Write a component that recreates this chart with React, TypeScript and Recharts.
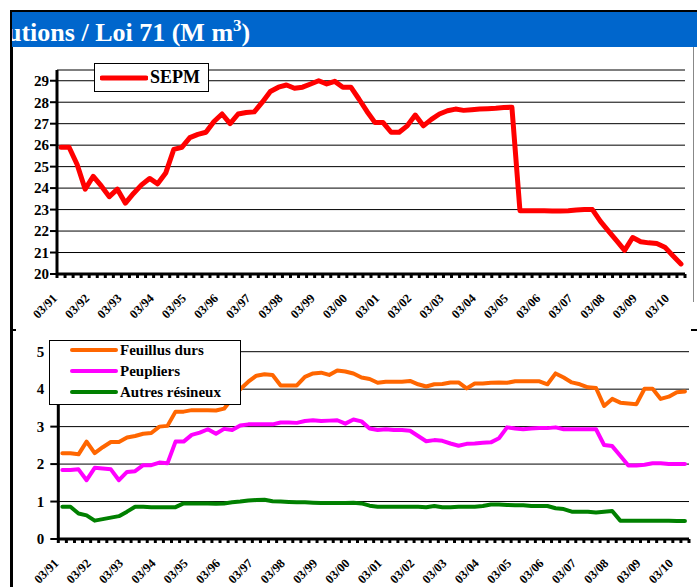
import { LineChart, Line, XAxis, YAxis, CartesianGrid } from "recharts"

const serif = '"Liberation Serif", "Times New Roman", serif'

// quarterly periods, 03/91 .. 06/10
const years = ["91", "92", "93", "94", "95", "96", "97", "98", "99", "00", "01", "02", "03", "04", "05", "06", "07", "08", "09", "10"]
const months = ["03", "06", "09", "12"]
const quarters = years.flatMap((y) => months.map((m) => `${m}/${y}`)).slice(0, 78)

const sepm = [
  25.9, 25.9, 25.1, 23.95, 24.55, 24.1, 23.6, 23.95, 23.3, 23.75,
  24.15, 24.45, 24.2, 24.7, 25.8, 25.9, 26.35, 26.5, 26.6, 27.1,
  27.45, 27.0, 27.45, 27.52, 27.55, 28.0, 28.5, 28.7, 28.8, 28.65,
  28.7, 28.85, 29.0, 28.85, 28.97, 28.7, 28.7, 28.15, 27.57, 27.05,
  27.05, 26.6, 26.6, 26.9, 27.4, 26.9, 27.2, 27.45, 27.6, 27.68,
  27.62, 27.65, 27.68, 27.7, 27.72, 27.75, 27.77, 22.95, 22.95, 22.94,
  22.94, 22.93, 22.93, 22.95, 22.98, 23.0, 23.0, 22.45, 22.0, 21.55,
  21.1, 21.7, 21.5, 21.45, 21.42, 21.25, 20.85, 20.47,
]

const feuillusDurs = [
  2.29, 2.29, 2.26, 2.6, 2.29, 2.45, 2.59, 2.59, 2.71, 2.75,
  2.81, 2.83, 3.0, 3.02, 3.4, 3.4, 3.44, 3.44, 3.44, 3.43,
  3.48, 3.75, 4.0, 4.2, 4.36, 4.4, 4.38, 4.1, 4.1, 4.1,
  4.33, 4.42, 4.44, 4.38, 4.5, 4.47, 4.42, 4.31, 4.27, 4.17,
  4.2, 4.2, 4.2, 4.22, 4.13, 4.07, 4.13, 4.14, 4.18, 4.18,
  4.02, 4.15, 4.15, 4.17, 4.18, 4.17, 4.21, 4.21, 4.21, 4.21,
  4.13, 4.42, 4.31, 4.18, 4.13, 4.05, 4.03, 3.55, 3.74, 3.64,
  3.62, 3.6, 4.01, 4.01, 3.74, 3.8, 3.92, 3.94,
]

const peupliers = [
  1.84, 1.84, 1.86, 1.57, 1.9, 1.88, 1.86, 1.57, 1.79, 1.81,
  1.97, 1.97, 2.04, 2.02, 2.6, 2.6, 2.78, 2.84, 2.93, 2.81,
  2.94, 2.91, 3.03, 3.06, 3.06, 3.06, 3.06, 3.11, 3.11, 3.1,
  3.15, 3.17, 3.15, 3.16, 3.17, 3.08, 3.19, 3.14, 2.95, 2.91,
  2.93, 2.91, 2.91, 2.89, 2.75, 2.61, 2.64, 2.62, 2.55, 2.49,
  2.54, 2.55, 2.57, 2.58, 2.69, 2.98, 2.95, 2.93, 2.95, 2.96,
  2.96, 2.98, 2.93, 2.93, 2.93, 2.93, 2.93, 2.51, 2.48, 2.22,
  1.96, 1.96, 1.98, 2.02, 2.02, 2.0, 2.0, 2.0,
]

const autresResineux = [
  0.86, 0.86, 0.68, 0.63, 0.49, 0.53, 0.57, 0.61, 0.73, 0.86,
  0.86, 0.85, 0.85, 0.85, 0.85, 0.95, 0.95, 0.95, 0.95, 0.94,
  0.95, 0.98, 1.0, 1.03, 1.04, 1.05, 1.01, 1.0, 0.99, 0.98,
  0.98, 0.97, 0.96, 0.96, 0.96, 0.96, 0.97, 0.95, 0.89, 0.86,
  0.86, 0.86, 0.86, 0.86, 0.86, 0.85, 0.88, 0.85, 0.85, 0.86,
  0.86, 0.86, 0.88, 0.92, 0.92, 0.91, 0.9, 0.9, 0.88, 0.88,
  0.88, 0.82, 0.8, 0.73, 0.73, 0.73, 0.71, 0.73, 0.75, 0.49,
  0.49, 0.49, 0.49, 0.49, 0.49, 0.49, 0.48, 0.48,
]

const topTicks = [20, 21, 22, 23, 24, 25, 26, 27, 28, 29]
const bottomTicks = [0, 1, 2, 3, 4, 5]

const topSeries = [{ key: "sepm", name: "SEPM", color: "#ff0000" }]
const bottomSeries = [
  { key: "feuillus", name: "Feuillus durs", color: "#ff6600" },
  { key: "peupliers", name: "Peupliers", color: "#ff00ff" },
  { key: "autres", name: "Autres résineux", color: "#008000" },
]

const topData = quarters.map((q, i) => ({ q, sepm: sepm[i] }))
const bottomData = quarters.map((q, i) => ({
  q,
  feuillus: feuillusDurs[i],
  peupliers: peupliers[i],
  autres: autresResineux[i],
}))

const topMargin = { top: 70, right: 12, bottom: 16, left: 12 }
const bottomMargin = { top: 21.7, right: 8, bottom: 8, left: 13.3 }
const yAxisW = 45
const topStep = (697 - topMargin.left - topMargin.right - yAxisW) / quarters.length
const bottomStep = (697 - bottomMargin.left - bottomMargin.right - yAxisW) / quarters.length

const quarterTick = (step: number) => (props: any) => {
  const { x, y, payload } = props
  const label = String(payload.value)
  const i = quarters.indexOf(label)
  const lx = x - 3
  const ly = y + 25
  return (
    <g>
      <line x1={x - step / 2} y1={y} x2={x - step / 2} y2={y + 4} stroke="#000" strokeWidth={3} />
      {i === quarters.length - 1 && (
        <line x1={x + step / 2} y1={y} x2={x + step / 2} y2={y + 4} stroke="#000" strokeWidth={3} />
      )}
      {label.startsWith("03/") && (
        <text
          x={lx}
          y={ly}
          transform={`rotate(-45 ${lx} ${ly})`}
          textAnchor="end"
          fontSize={12.5}
          fontWeight="bold"
          fontFamily={serif}
          fill="#000"
        >
          {label}
        </text>
      )}
    </g>
  )
}

const yTickStyle = { fill: "#000", fontSize: 15, fontWeight: "bold", fontFamily: serif }

function LegendSample({ color, width }: { color: string; width: number }) {
  return (
    <svg width={48} height={8} style={{ display: "block" }}>
      <line x1={2} y1={4} x2={46} y2={4} stroke={color} strokeWidth={width} strokeLinecap="round" />
    </svg>
  )
}

export default function App() {
  return (
    <div
      style={{
        position: "absolute",
        left: 0,
        top: 0,
        width: 697,
        height: 587,
        background: "#fff",
        overflow: "hidden",
        fontFamily: serif,
      }}
    >
      <div style={{ position: "absolute", left: 0, top: 0 }}>
        <LineChart width={697} height={330} data={topData} margin={topMargin}>
          <CartesianGrid horizontal vertical={false} stroke="#000" strokeWidth={1} />
          <XAxis
            dataKey="q"
            interval={0}
            height={40}
            padding={{ left: topStep / 2, right: topStep / 2 }}
            axisLine={{ stroke: "#000", strokeWidth: 3 }}
            tickLine={false}
            tickSize={0}
            tickMargin={0}
            tick={quarterTick(topStep)}
          />
          <YAxis
            width={yAxisW}
            domain={[20, 29.5]}
            ticks={topTicks}
            interval={0}
            axisLine={{ stroke: "#000", strokeWidth: 3 }}
            tickLine={{ stroke: "#000", strokeWidth: 2 }}
            tickSize={7}
            tickMargin={1}
            tick={yTickStyle}
          />
          {topSeries.map((s) => (
            <Line
              key={s.key}
              type="linear"
              dataKey={s.key}
              name={s.name}
              stroke={s.color}
              strokeWidth={5}
              strokeLinejoin="round"
              strokeLinecap="round"
              dot={false}
              activeDot={false}
              isAnimationActive={false}
            />
          ))}
        </LineChart>
      </div>

      <div style={{ position: "absolute", left: 0, top: 330 }}>
        <LineChart width={697} height={257} data={bottomData} margin={bottomMargin}>
          <CartesianGrid horizontal vertical={false} stroke="#000" strokeWidth={1} />
          <XAxis
            dataKey="q"
            interval={0}
            height={40}
            padding={{ left: bottomStep / 2, right: bottomStep / 2 }}
            axisLine={{ stroke: "#000", strokeWidth: 3 }}
            tickLine={false}
            tickSize={0}
            tickMargin={0}
            tick={quarterTick(bottomStep)}
          />
          <YAxis
            width={yAxisW}
            domain={[0, 5]}
            ticks={bottomTicks}
            interval={0}
            axisLine={{ stroke: "#000", strokeWidth: 3 }}
            tickLine={{ stroke: "#000", strokeWidth: 2 }}
            tickSize={8}
            tickMargin={6}
            tick={yTickStyle}
          />
          {bottomSeries.map((s) => (
            <Line
              key={s.key}
              type="linear"
              dataKey={s.key}
              name={s.name}
              stroke={s.color}
              strokeWidth={4}
              strokeLinejoin="round"
              strokeLinecap="round"
              dot={false}
              activeDot={false}
              isAnimationActive={false}
            />
          ))}
        </LineChart>
      </div>

      {/* frame */}
      <div style={{ position: "absolute", left: 10, top: 10, width: 687, height: 2, background: "#000" }} />
      <div style={{ position: "absolute", left: 10, top: 10, width: 3, height: 577, background: "#000" }} />
      <div style={{ position: "absolute", left: 693, top: 47, width: 1, height: 255, background: "#888" }} />
      <div style={{ position: "absolute", left: 10, top: 329, width: 6, height: 2, background: "#000" }} />
      <div style={{ position: "absolute", left: 691, top: 329, width: 6, height: 2, background: "#000" }} />

      {/* title bar */}
      <div
        style={{
          position: "absolute",
          left: 12,
          top: 12,
          width: 685,
          height: 35,
          background: "#0066cc",
          overflow: "hidden",
        }}
      >
        <div
          style={{
            position: "absolute",
            left: -5,
            top: 6,
            whiteSpace: "nowrap",
            color: "#fff",
            fontWeight: "bold",
            fontSize: 26,
            lineHeight: "30px",
          }}
        >
          utions / Loi 71 (M m<span style={{ fontSize: 17, position: "relative", top: -10 }}>3</span>)
        </div>
      </div>

      {/* top legend */}
      <div
        style={{
          position: "absolute",
          left: 94,
          top: 63,
          width: 115,
          height: 29,
          boxSizing: "border-box",
          border: "1px solid #000",
          background: "#fff",
        }}
      >
        {topSeries.map((s) => (
          <div key={s.key} style={{ position: "absolute", left: 5, top: 0, height: 27, display: "flex", alignItems: "center" }}>
            <LegendSample color={s.color} width={5} />
            <span style={{ fontSize: 18, fontWeight: "bold", marginLeft: 2, color: "#000" }}>{s.name}</span>
          </div>
        ))}
      </div>

      {/* bottom legend */}
      <div
        style={{
          position: "absolute",
          left: 49,
          top: 340,
          width: 192,
          height: 65,
          boxSizing: "border-box",
          border: "1px solid #000",
          background: "#fff",
        }}
      >
        {bottomSeries.map((s, i) => (
          <div
            key={s.key}
            style={{ position: "absolute", left: 20, top: -1 + 21 * i, height: 20, display: "flex", alignItems: "center" }}
          >
            <LegendSample color={s.color} width={4} />
            <span style={{ fontSize: 15, fontWeight: "bold", marginLeft: 2, color: "#000", whiteSpace: "nowrap" }}>{s.name}</span>
          </div>
        ))}
      </div>
    </div>
  )
}
